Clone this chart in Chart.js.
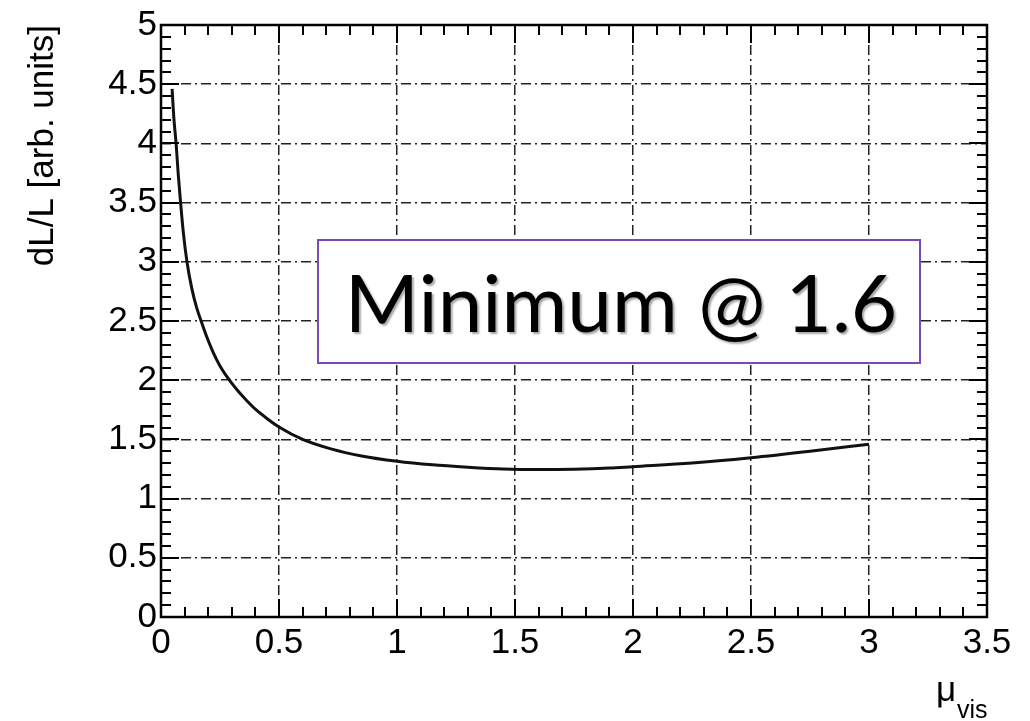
<!DOCTYPE html>
<html>
<head>
<meta charset="utf-8">
<script src="https://cdn.jsdelivr.net/npm/chart.js@4/dist/chart.umd.min.js"></script>
<style>
  html, body { margin: 0; padding: 0; background: #fff; }
  #wrap { width: 1030px; height: 721px; position: relative; }
</style>
</head>
<body>
<div id="wrap"><canvas id="c"></canvas></div>
<script>
// ---- data ----
const muVis = [0.047, 0.055, 0.064, 0.073, 0.083, 0.095, 0.11, 0.13, 0.15, 0.17, 0.195, 0.22, 0.25, 0.29, 0.33, 0.36, 0.4, 0.45, 0.5, 0.6, 0.72, 0.85, 1.0, 1.15, 1.3, 1.45, 1.6, 1.75, 1.9, 2.0, 2.25, 2.5, 2.75, 3.0];
const dLL   = [4.46, 4.2, 4.0, 3.74, 3.5, 3.24, 3.0, 2.78, 2.62, 2.5, 2.36, 2.24, 2.12, 2.0, 1.9, 1.835, 1.755, 1.675, 1.605, 1.5, 1.42, 1.36, 1.315, 1.285, 1.265, 1.25, 1.245, 1.248, 1.258, 1.27, 1.30, 1.345, 1.40, 1.46];
const xTickLabels = ['0', '0.5', '1', '1.5', '2', '2.5', '3', '3.5'];
const yTickLabels = ['0', '0.5', '1', '1.5', '2', '2.5', '3', '3.5', '4', '4.5', '5'];
const yTitle = 'dL/L [arb. units]';
const xTitleMain = 'μ';
const xTitleSub = 'vis';
const noteText = 'Minimum @ 1.6';

const points = muVis.map((x, i) => ({ x: x, y: dLL[i] }));

const framePlugin = {
  id: 'frame',
  beforeDatasetsDraw(chart) {
    const ctx = chart.ctx;
    ctx.save();
    ctx.fillStyle = '#ffffff';
    ctx.fillRect(318, 240, 602, 123);
    ctx.lineWidth = 2;
    ctx.strokeStyle = '#7b48b6';
    ctx.strokeRect(318, 240, 602, 123);
    ctx.font = '80px Lato';
    ctx.textAlign = 'center';
    ctx.textBaseline = 'alphabetic';
    ctx.shadowColor = 'rgba(0,0,0,0.35)';
    ctx.shadowOffsetX = 2;
    ctx.shadowOffsetY = 2;
    ctx.shadowBlur = 2;
    ctx.fillStyle = '#000';
    ctx.fillText(noteText, 621, 332);
    ctx.restore();
  },
  afterDraw(chart) {
    const ctx = chart.ctx;
    const a = chart.chartArea;
    const xs = chart.scales.x, ys = chart.scales.y;
    ctx.save();
    ctx.strokeStyle = '#000';
    ctx.lineWidth = 2;
    ctx.beginPath();
    for (let i = 0; i <= 35; i++) {
      const px = Math.round(xs.getPixelForValue(i / 10));
      const len = (i % 5 === 0) ? 18 : 10;
      ctx.moveTo(px, a.bottom); ctx.lineTo(px, a.bottom - len);
      ctx.moveTo(px, a.top); ctx.lineTo(px, a.top + len);
    }
    for (let i = 0; i <= 50; i++) {
      const py = Math.round(ys.getPixelForValue(i / 10));
      const len = (i % 5 === 0) ? 18 : 10;
      ctx.moveTo(a.left, py); ctx.lineTo(a.left + len, py);
      ctx.moveTo(a.right, py); ctx.lineTo(a.right - len, py);
    }
    ctx.stroke();
    ctx.lineWidth = 2.5;
    ctx.strokeRect(a.left, a.top, a.right - a.left, a.bottom - a.top);
    ctx.fillStyle = '#000';
    ctx.textBaseline = 'alphabetic';
    ctx.textAlign = 'left';
    ctx.font = '35px "Liberation Sans", Arial, sans-serif';
    ctx.fillText(xTitleMain, 936, 701);
    ctx.font = '25px "Liberation Sans", Arial, sans-serif';
    ctx.fillText(xTitleSub, 957, 718);
    ctx.restore();
  }
};

new Chart(document.getElementById('c'), {
  type: 'line',
  data: {
    datasets: [{
      data: points,
      borderColor: '#111',
      borderWidth: 3,
      pointRadius: 0,
      fill: false,
      cubicInterpolationMode: 'monotone'
    }]
  },
  options: {
    responsive: true,
    maintainAspectRatio: false,
    animation: false,
    events: [],
    layout: { padding: { top: 22, right: 43, left: 0, bottom: 0 } },
    plugins: { legend: { display: false }, tooltip: { enabled: false } },
    scales: {
      x: {
        type: 'linear',
        min: 0, max: 3.5,
        ticks: {
          stepSize: 0.5,
          padding: 5,
          color: '#000',
          font: { family: '"Liberation Sans", Arial, sans-serif', size: 35 },
          maxRotation: 0,
          callback: (v) => { const i = Math.round(v / 0.5); return xTickLabels[i] ?? ''; }
        },
        grid: { color: '#222', lineWidth: 1.5, drawTicks: false },
        border: { display: false, dash: [10, 4, 2, 4] },
        afterFit: (s) => { s.height = 104; }
      },
      y: {
        type: 'linear',
        min: 0, max: 5,
        ticks: {
          stepSize: 0.5,
          padding: 4,
          color: '#000',
          font: { family: '"Liberation Sans", Arial, sans-serif', size: 35 },
          callback: (v) => { const i = Math.round(v / 0.5); return yTickLabels[i] ?? ''; }
        },
        grid: { color: '#222', lineWidth: 1.5, drawTicks: false },
        border: { display: false, dash: [10, 4, 2, 4] },
        title: {
          display: true,
          text: yTitle,
          align: 'end',
          color: '#000',
          font: { family: '"Liberation Sans", Arial, sans-serif', size: 35 },
          padding: { top: 22, bottom: 0 }
        },
        afterFit: (s) => { s.width = 161; }
      }
    }
  },
  plugins: [framePlugin]
});
</script>
</body>
</html>
